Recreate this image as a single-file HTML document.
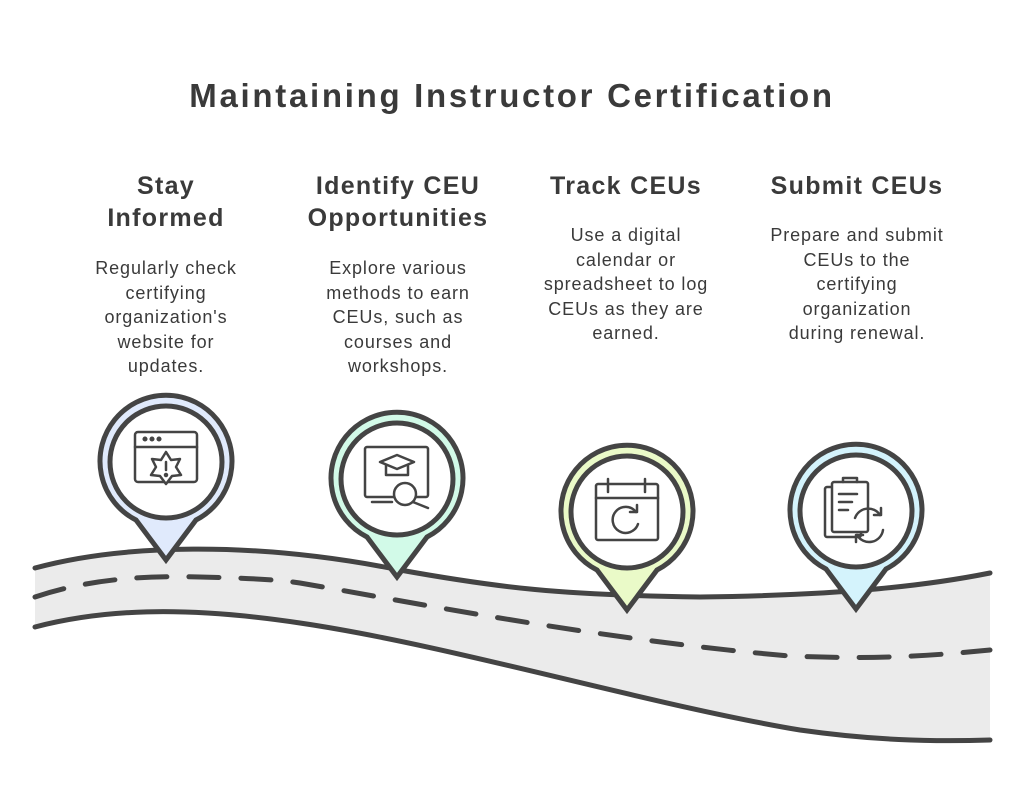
<!DOCTYPE html>
<html><head><meta charset="utf-8"><style>
body{margin:0;width:1024px;height:794px;background:#fff;overflow:hidden;font-family:"Liberation Sans",sans-serif;color:#3a3a3a}
.t{position:absolute;text-align:center;}
h1{position:absolute;left:0;width:1024px;top:77px;margin:0;text-align:center;font-size:33px;font-weight:bold;letter-spacing:2.7px}
.h{font-weight:bold;font-size:25px;line-height:32px;width:260px;letter-spacing:1.3px}
.b{font-size:18px;line-height:24.6px;width:240px;letter-spacing:0.9px}
</style></head><body>
<svg width="1024" height="794" style="position:absolute;left:0;top:0">
<path d="M35,568 C120,545 250,540 400,570 C500,588 560,595 700,597 C850,595 930,585 990,573 L990,740 C930,742 870,740 800,730 C650,705 450,645 300,623 C180,605 100,610 35,627 Z" fill="#ebebeb"/>
<g fill="none" stroke="#444" stroke-width="5" stroke-linecap="round">
<path d="M35,568 C120,545 250,540 400,570 C500,588 560,595 700,597 C850,595 930,585 990,573"/>
<path d="M35,627 C100,610 180,605 300,623 C450,645 650,705 800,730 C870,740 930,742 990,740"/>
<path d="M35,597 C80,582 130,575 200,577 C250,578 280,580 300,583 C400,600 600,640 790,656 C880,660 940,655 990,650" stroke-dasharray="30,22"/>
</g>
<g stroke="#444" stroke-width="5" fill="#fff">
<g transform="translate(166,462)"><path d="M-30,58 A66,66 0 1 1 30,58 L0,98 Z" fill="#e0eafc"/><circle r="56" fill="#fff"/></g>
<g transform="translate(397,479)"><path d="M-30,58 A66,66 0 1 1 30,58 L0,98 Z" fill="#d2fae8"/><circle r="56" fill="#fff"/></g>
<g transform="translate(627,512)"><path d="M-30,58 A66,66 0 1 1 30,58 L0,98 Z" fill="#eafac8"/><circle r="56" fill="#fff"/></g>
<g transform="translate(856,511)"><path d="M-30,58 A66,66 0 1 1 30,58 L0,98 Z" fill="#d4f3fc"/><circle r="56" fill="#fff"/></g>
</g>
<g fill="none" stroke="#444" stroke-width="2.5" stroke-linecap="round" stroke-linejoin="round">
<rect x="135" y="432" width="62" height="50" rx="3"/><line x1="135" y1="447" x2="197" y2="447"/>
<circle cx="145" cy="439" r="1.3" fill="#444"/><circle cx="152" cy="439" r="1.3" fill="#444"/><circle cx="159" cy="439" r="1.3" fill="#444"/>
<polygon points="166,452 171,460 180,459 176,467 181,475 172,476 166,484 160,476 151,475 156,467 152,459 161,460" fill="#fff"/>
<line x1="166" y1="462" x2="166" y2="470"/><circle cx="166" cy="475" r="1" fill="#444"/>
<rect x="365" y="447" width="63" height="50" rx="2"/><line x1="372" y1="502" x2="392" y2="502"/>
<path d="M380,462 L397,455 L414,462 L397,469 Z"/><path d="M386,465 V475 H408 V465"/>
<circle cx="405" cy="494" r="11" fill="#fff"/><line x1="413" y1="502" x2="428" y2="508"/>
<rect x="596" y="484" width="62" height="56" rx="2"/><line x1="596" y1="498" x2="658" y2="498"/>
<line x1="608" y1="479" x2="608" y2="492"/><line x1="645" y1="479" x2="645" y2="492"/>
<path d="M636,512 A13,13 0 1 0 638,524"/><path d="M630,512 H637 V505"/>
<rect x="825" y="487" width="36" height="50" rx="2"/><rect x="832" y="482" width="36" height="50" rx="2" fill="#fff"/>
<path d="M843,482 V478 H857 V482"/><line x1="839" y1="494" x2="857" y2="494"/><line x1="839" y1="502" x2="852" y2="502"/><line x1="839" y1="510" x2="848" y2="510"/>
<path d="M855,518 A14,14 0 0 1 880,515"/><path d="M883,530 A14,14 0 0 1 857,535"/><path d="M874,515 H881 V508"/><path d="M863,535 H856 V542"/>
</g>
</svg>
<h1>Maintaining Instructor Certification</h1>
<div class="t h" style="left:36px;top:170px">Stay<br>Informed</div>
<div class="t h" style="left:268px;top:170px">Identify CEU<br>Opportunities</div>
<div class="t h" style="left:496px;top:170px">Track CEUs</div>
<div class="t h" style="left:727px;top:170px">Submit CEUs</div>
<div class="t b" style="left:46px;top:256px">Regularly check<br>certifying<br>organization's<br>website for<br>updates.</div>
<div class="t b" style="left:278px;top:256px">Explore various<br>methods to earn<br>CEUs, such as<br>courses and<br>workshops.</div>
<div class="t b" style="left:506px;top:223px">Use a digital<br>calendar or<br>spreadsheet to log<br>CEUs as they are<br>earned.</div>
<div class="t b" style="left:737px;top:223px">Prepare and submit<br>CEUs to the<br>certifying<br>organization<br>during renewal.</div>
</body></html>
